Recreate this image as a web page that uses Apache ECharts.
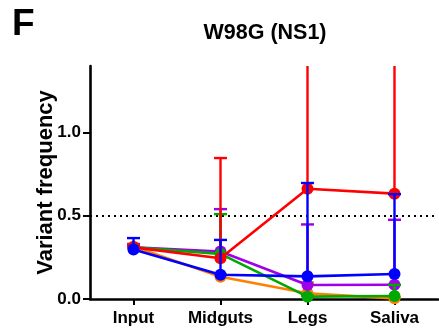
<!DOCTYPE html>
<html>
<head>
<meta charset="utf-8">
<script src="https://cdn.jsdelivr.net/npm/echarts@6/dist/echarts.min.js"></script>
<style>
  html, body { margin: 0; padding: 0; background: #fff; }
  #chart { width: 439px; height: 336px; }
</style>
</head>
<body>
<div id="chart"></div>
<script>
// Tissue compartments along the x axis
const categories = ['Input', 'Midguts', 'Legs', 'Saliva'];
const yTicks = [0, 0.5, 1.0];

// Mean variant frequency per replicate line
const orangeMean = [0.315, 0.134, 0.034, 0.004];
const purpleMean = [0.31, 0.285, 0.084, 0.086];
const greenMean  = [0.31, 0.271, 0.014, 0.018];
const redMean    = [0.31, 0.245, 0.662, 0.633];
const blueMean   = [0.297, 0.146, 0.136, 0.150];

// Upper end of each error bar (upper whisker only)
const orangeUpper = [0.33, 0.15, 0.10, 0.01];
const purpleUpper = [0.33, 0.54, 0.448, 0.476];
const greenUpper  = [0.32, 0.51, 0.02, 0.085];
const redUpper    = [0.32, 0.847, 1.9, 1.9];
const blueUpper   = [0.366, 0.355, 0.697, 0.63];

const threshold = 0.5;

const groups = [
  { name: 'orange', color: '#FF8000', mean: orangeMean, upper: orangeUpper },
  { name: 'purple', color: '#A000E8', mean: purpleMean, upper: purpleUpper },
  { name: 'green',  color: '#00A800', mean: greenMean,  upper: greenUpper },
  { name: 'red',    color: '#FF0000', mean: redMean,    upper: redUpper },
  { name: 'blue',   color: '#0000FF', mean: blueMean,   upper: blueUpper }
];

const chart = echarts.init(document.getElementById('chart'), null, { renderer: 'canvas' });
const font = 'Liberation Sans, Arial, sans-serif';

// vertical whisker from the mean up to the upper value, capped unless it runs off the top
function errorBarRender(color) {
  return function (params, api) {
    const i = api.value(0);
    const m = api.coord([i, api.value(1)]);
    const u = api.coord([i, api.value(2)]);
    const top = params.coordSys.y;
    const uy = Math.max(u[1], top);
    const capped = u[1] >= top;
    const half = 6.5;
    const children = [{
      type: 'line',
      shape: { x1: m[0], y1: m[1], x2: m[0], y2: uy },
      style: { stroke: color, lineWidth: 2.4 }
    }];
    if (capped) {
      children.push({
        type: 'line',
        shape: { x1: m[0] - half, y1: uy, x2: m[0] + half, y2: uy },
        style: { stroke: color, lineWidth: 2.4 }
      });
    }
    return { type: 'group', children: children };
  };
}

const series = [];
groups.forEach(function (g, gi) {
  series.push({
    type: 'custom',
    name: g.name + '-err',
    renderItem: errorBarRender(g.color),
    data: g.mean.map(function (v, i) { return [i, v, g.upper[i]]; }),
    z: 2 + gi * 2,
    silent: true
  });
  series.push({
    type: 'line',
    name: g.name,
    data: g.mean,
    symbol: 'circle',
    symbolSize: 12,
    lineStyle: { color: g.color, width: 2.6 },
    itemStyle: { color: g.color },
    z: 3 + gi * 2,
    silent: true
  });
});

// dotted reference line at 0.5
series.push({
  type: 'line',
  data: [],
  markLine: {
    silent: true,
    symbol: 'none',
    label: { show: false },
    lineStyle: { color: '#000', type: [2, 4], width: 2 },
    data: [{ yAxis: threshold }]
  },
  z: 1
});

chart.setOption({
  animation: false,
  backgroundColor: '#fff',
  title: [
    {
      text: 'W98G (NS1)',
      left: 260, top: 17, textAlign: 'center',
      textStyle: { fontFamily: font, fontWeight: 'bold', fontSize: 21.5, color: '#000' }
    },
    {
      text: 'F',
      left: 7, top: 1,
      textStyle: { fontFamily: font, fontWeight: 'bold', fontSize: 37, color: '#000' }
    }
  ],
  grid: { left: 90, right: 1, top: 66, bottom: 37, containLabel: false },
  xAxis: {
    type: 'category',
    data: categories,
    boundaryGap: true,
    axisLine: { lineStyle: { color: '#000', width: 2.6 } },
    axisTick: { show: true, alignWithLabel: true, length: 6, lineStyle: { color: '#000', width: 2 } },
    axisLabel: { fontFamily: font, fontWeight: 'bold', fontSize: 17, color: '#000', margin: 11 },
    splitLine: { show: false }
  },
  yAxis: {
    type: 'value',
    min: 0, max: 1.4, interval: 0.5,
    name: 'Variant frequency',
    nameLocation: 'middle',
    nameGap: 33,
    nameMoveOverlap: false,
    nameRotate: 90,
    nameTextStyle: { fontFamily: font, fontWeight: 'bold', fontSize: 22, color: '#000' },
    axisLine: { show: true, lineStyle: { color: '#000', width: 2.6 } },
    axisTick: { show: true, length: 7, lineStyle: { color: '#000', width: 2 } },
    axisLabel: {
      fontFamily: font, fontWeight: 'bold', fontSize: 17, color: '#000', margin: 9,
      showMaxLabel: false,
      formatter: function (v) { return yTicks.indexOf(v) >= 0 ? v.toFixed(1) : ''; }
    },
    splitLine: { show: false }
  },
  series: series
});
</script>
</body>
</html>
